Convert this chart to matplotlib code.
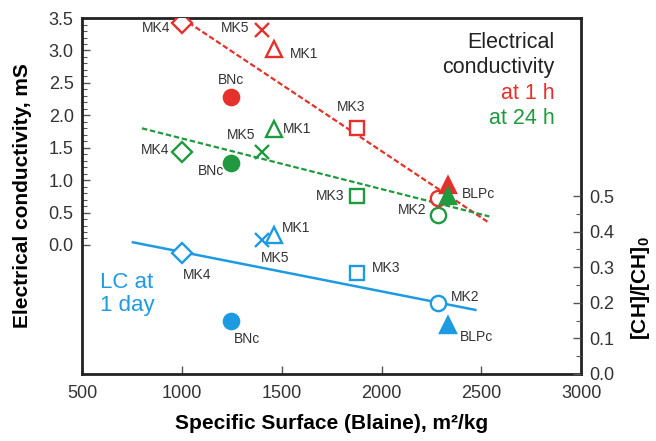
import matplotlib
matplotlib.use("Agg")
import matplotlib.pyplot as plt
from matplotlib.ticker import FixedLocator

plt.rcParams['font.family'] = ['Liberation Sans', 'DejaVu Sans']
plt.rcParams['mathtext.fontset'] = 'custom'
plt.rcParams['mathtext.rm'] = 'Liberation Sans'
plt.rcParams['mathtext.bf'] = 'Liberation Sans:bold'

# data: specific surface (Blaine), m2/kg
names = ['MK4', 'MK5', 'MK1', 'BNc', 'MK3', 'MK2', 'BLPc']
blaine = [1000, 1400, 1460, 1245, 1875, 2285, 2335]
markers = ['D', 'x', '^', 'o', 's', 'o', '^']
filled = [False, False, False, True, False, False, True]

ec_1h = [3.43, 3.32, 3.02, 2.29, 1.80, 0.72, 0.93]
ec_24h = [1.43, 1.44, 1.79, 1.27, 0.75, 0.46, 0.76]
lc_1d = [0.340, 0.377, 0.390, 0.150, 0.283, 0.200, 0.138]

# trend lines (end points)
fit_1h_x = [1000, 2530]
fit_1h_y = [3.50, 0.36]
fit_24h_x = [800, 2540]
fit_24h_y = [1.80, 0.44]
fit_lc_x = [755, 2470]
fit_lc_y = [0.370, 0.180]

RED = '#e5302b'
GREEN = '#1f9a3f'
BLUE = '#1d9be2'
TXT = '#333333'

fig = plt.figure(figsize=(6.56, 4.41), dpi=100)
ax = fig.add_axes([0.125, 0.152, 0.761, 0.807])
ax2 = ax.twinx()

ax.set_xlim(500, 3000)
ax.set_ylim(-1.99, 3.5)
ax2.set_ylim(0, 1.0)

ax.plot(fit_1h_x, fit_1h_y, color=RED, ls=(0, (2.5, 1.2)), lw=1.6)
ax.plot(fit_24h_x, fit_24h_y, color=GREEN, ls=(0, (2.5, 1.2)), lw=1.6)
ax2.plot(fit_lc_x, fit_lc_y, color=BLUE, lw=1.8)

sizes = {'D': 10.5, 'x': 10, '^': 12, 'o': 11, 's': 10.5}


def draw(axis, ys, color):
    for x, y, m, f in zip(blaine, ys, markers, filled):
        axis.plot(x, y, marker=m, ms=sizes[m], mew=1.7, color=color,
                  mfc=color if f else 'white', ls='none', zorder=5)


draw(ax, ec_1h, RED)
draw(ax, ec_24h, GREEN)
draw(ax2, lc_1d, BLUE)

lab = dict(fontsize=10, color=TXT, textcoords='offset points')


def label(axis, i, ys, off, ha='center'):
    axis.annotate(names[i], (blaine[i], ys[i]), xytext=off, ha=ha,
                  va='center', **lab)


# 1 h labels
label(ax, 0, ec_1h, (-8, -3.6), ha='right')
label(ax, 1, ec_1h, (-9, 1.5), ha='right')
label(ax, 2, ec_1h, (12, -3.6), ha='left')
label(ax, 3, ec_1h, (0, 12))
label(ax, 4, ec_1h, (-4, 15))
label(ax, 6, ec_1h, (10, -6.8), ha='left')
# 24 h labels
label(ax, 0, ec_24h, (-9, 1.5), ha='right')
label(ax, 1, ec_24h, (-15, 12))
label(ax, 2, ec_24h, (6.5, 0), ha='left')
label(ax, 3, ec_24h, (-14, -6))
label(ax, 4, ec_24h, (-8.6, 0), ha='right')
label(ax, 5, ec_24h, (-8.5, 3.6), ha='right')
# LC labels
label(ax2, 0, lc_1d, (11, -16))
label(ax2, 1, lc_1d, (9.4, -13))
label(ax2, 2, lc_1d, (6, 5), ha='left')
label(ax2, 3, lc_1d, (12, -13))
label(ax2, 4, lc_1d, (11, 3.6), ha='left')
label(ax2, 5, lc_1d, (9, 4.5), ha='left')
label(ax2, 6, lc_1d, (8, -8.6), ha='left')

# legend-like text
tx = dict(transform=ax.transAxes, ha='right', va='center', fontsize=15.5)
ax.text(0.946, 0.930, 'Electrical', color='#222222', **tx)
ax.text(0.946, 0.860, 'conductivity', color='#222222', **tx)
ax.text(0.946, 0.787, 'at 1 h', color=RED, **tx)
ax.text(0.946, 0.719, 'at 24 h', color=GREEN, **tx)
lc = dict(transform=ax.transAxes, ha='left', va='center', fontsize=16,
          color=BLUE)
ax.text(0.036, 0.258, 'LC at', **lc)
ax.text(0.036, 0.191, '1 day', **lc)

# axes styling
for s in ax.spines.values():
    s.set_linewidth(2)
    s.set_color('#222222')
ax2.spines[:].set_visible(False)

ax.xaxis.set_major_locator(FixedLocator([500, 1000, 1500, 2000, 2500, 3000]))
ax.yaxis.set_major_locator(FixedLocator([0, 0.5, 1.0, 1.5, 2.0, 2.5, 3.0, 3.5]))
ax.yaxis.set_minor_locator(FixedLocator([i / 10 for i in range(36)]))
ax2.yaxis.set_major_locator(FixedLocator([0, 0.1, 0.2, 0.3, 0.4, 0.5]))
ax2.yaxis.set_minor_locator(FixedLocator([0.05, 0.15, 0.25, 0.35, 0.45]))

ax.tick_params(axis='both', which='major', direction='in', length=6,
               width=1, labelsize=13, labelcolor=TXT, color='#555555')
ax.tick_params(axis='y', which='minor', direction='in', length=3.5,
               width=0.8, color='#555555')
ax.tick_params(axis='x', pad=8)
ax.tick_params(axis='y', pad=6)
ax2.tick_params(axis='y', which='major', direction='in', length=6,
                width=1, labelsize=13, labelcolor=TXT, color='#555555', pad=6)
ax2.tick_params(axis='y', which='minor', direction='in', length=3.5,
                width=0.8, color='#555555')
ax.yaxis.set_major_formatter(lambda v, p: f'{v:.1f}')
ax2.yaxis.set_major_formatter(lambda v, p: f'{v:.1f}')

ax.set_xlabel('Specific Surface (Blaine), m\u00b2/kg', fontsize=15,
              fontweight='bold', va='center')
ax.xaxis.set_label_coords(0.5, -0.14)
ax.set_ylabel('Electrical conductivity, mS', fontsize=15, fontweight='bold',
              va='center')
ax.yaxis.set_label_coords(-0.12, 0.5)
ax2.set_ylabel(r'[CH]/[CH]$_{\mathbf{0}}$', fontsize=15, fontweight='bold',
               va='center')
ax2.yaxis.set_label_coords(1.118, 0.24)

fig.savefig('out.png', dpi=100)
